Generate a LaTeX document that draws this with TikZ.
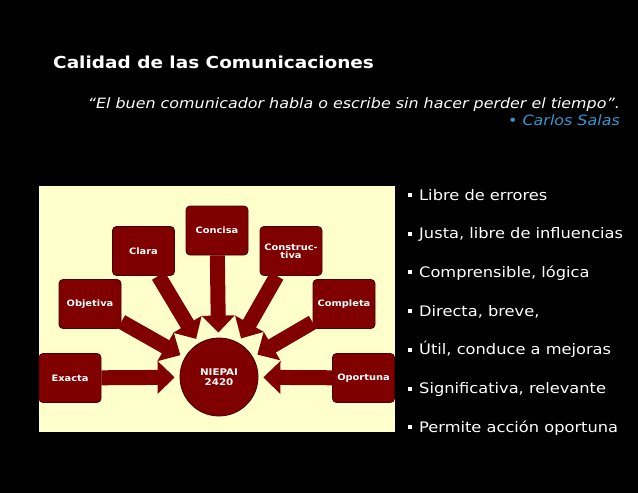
\documentclass[tikz,border=0pt]{standalone}
\usepackage{fontspec}
\setmainfont{DejaVu Sans}[FakeStretch=1.12]
\usetikzlibrary{arrows.meta}
\definecolor{cream}{RGB}{255,255,204}
\definecolor{maroon}{RGB}{128,0,0}
\definecolor{maroondark}{RGB}{70,0,0}
\definecolor{salas}{RGB}{51,153,204}
\tikzset{
  qbox/.style={draw=maroondark, line width=0.8pt, fill=maroon, rounded corners=4pt,
    minimum width=62pt, minimum height=49pt, inner sep=0pt, align=center,
    text=white, font=\fontsize{8.8}{9}\selectfont\bfseries},
  hub/.style={circle, draw=maroondark, line width=0.8pt, fill=maroon, minimum size=78pt,
    inner sep=0pt, align=center, text=white, font=\fontsize{9.2}{10}\selectfont\bfseries},
  bigarrow/.style={draw=maroon, line width=15pt, line cap=butt,
    -{Triangle[length=17pt,width=32pt]}, shorten >=5pt},
  item/.style={anchor=base west, text=white, inner sep=0pt, font=\fontsize{14.5}{16}\selectfont},
  sq/.style={fill=white, minimum size=4pt, inner sep=0pt}
}
\begin{document}
\begin{tikzpicture}[x=1pt,y=-1pt]
\useasboundingbox (0,0) rectangle (638,493);
\fill[black] (0,0) rectangle (638,493);
\fill[cream] (39,186) rectangle (395,432);
% title and quote
\node[anchor=base west, text=white, inner sep=0pt, font=\fontsize{16.5}{20}\selectfont\bfseries] (title) at (53,68) {Calidad de las Comunicaciones};
\node[anchor=base east, text=white, inner sep=0pt, font=\fontsize{14.2}{16}\selectfont\itshape] (quote) at (620,108) {“El buen comunicador habla o escribe sin hacer perder el tiempo”.};
\node[anchor=base east, text=salas, inner sep=0pt, font=\fontsize{14.2}{16}\selectfont\itshape] (author) at (620,125) {\textcolor{salas}{•} Carlos Salas};
% diagram
\node[hub] (niepai) at (219,377) {NIEPAI\\2420};
\node[qbox] (exacta) at (70,378) {Exacta};
\node[qbox] (objetiva) at (90,304) {Objetiva};
\node[qbox] (clara) at (143.5,251) {Clara};
\node[qbox] (concisa) at (217,230.5) {Concisa};
\node[qbox] (constructiva) at (291,251) {Construc-\\[-1pt]tiva};
\node[qbox] (completa) at (344,304) {Completa};
\node[qbox] (oportuna) at (363.5,378) {Oportuna};
\foreach \n in {exacta,objetiva,clara,concisa,constructiva,completa,oportuna}
  \draw[bigarrow] (\n) -- (niepai);
% list
\foreach \t [count=\i from 0] in {Libre de errores,{Justa, libre de influencias},{Comprensible, lógica},{Directa, breve,},{Útil, conduce a mejoras},{Significativa, relevante},Permite acción oportuna}{
  \node[item] (it\i) at (419,200+38.7*\i) {\t};
  \node[sq] (b\i) at (409.5,195+38.7*\i) {};
}
\end{tikzpicture}
\end{document}
